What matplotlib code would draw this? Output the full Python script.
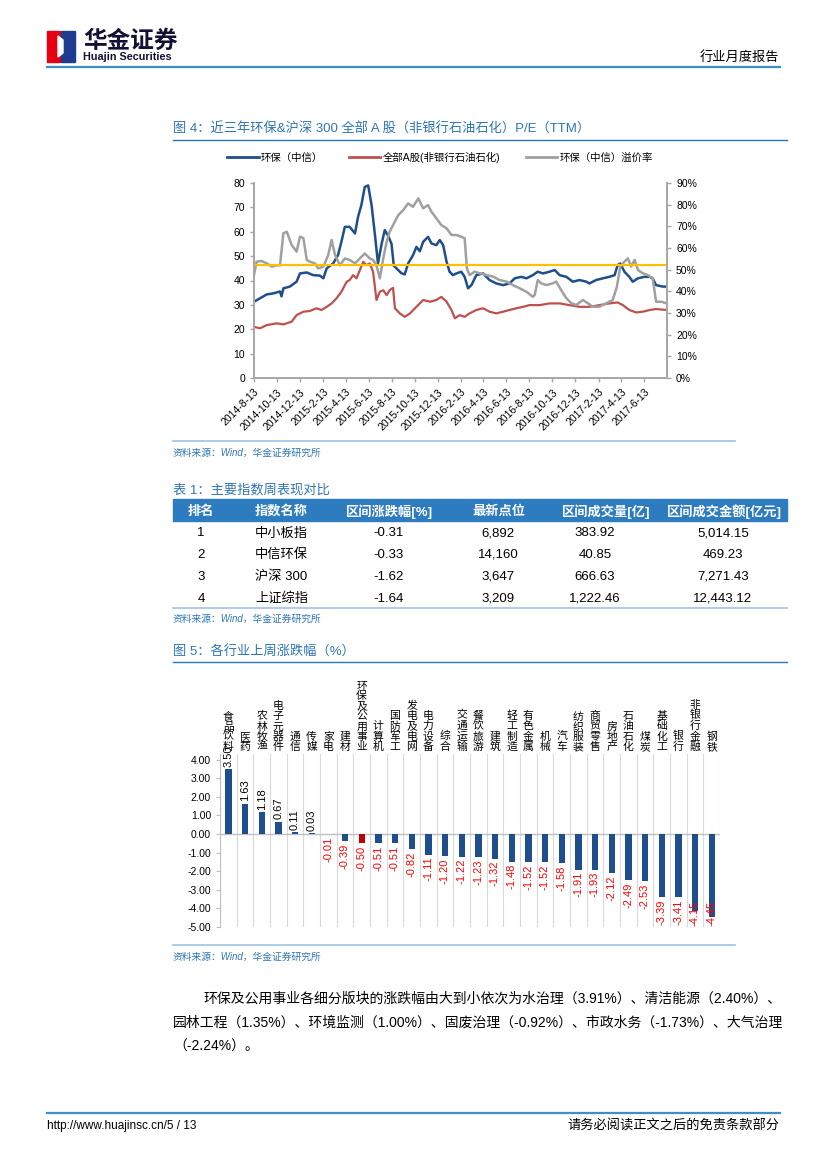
import numpy as np
import pandas as pd
import matplotlib
matplotlib.use("Agg")
import matplotlib.pyplot as plt
from matplotlib.patches import Rectangle, Polygon
from matplotlib.lines import Line2D
from matplotlib.ticker import FuncFormatter

plt.rcParams['font.family'] = ['Liberation Sans', 'Noto Sans CJK SC', 'DejaVu Sans']

# ---- 图4 数据 (天数从 2014-8-13 起算, 读图估计) ----
base = pd.Timestamp('2014-08-13')
blue_days = [0, 16, 34, 51, 69, 73, 78, 95, 113, 122, 140, 157, 175, 184, 193, 210, 223, 232, 241, 254,
             268, 276, 285, 294, 303, 312, 321, 329, 338, 347, 357, 365, 371, 378, 391, 400, 409, 422, 431, 440,
             449, 462, 471, 484, 493, 502, 511, 519, 528, 537, 550, 559, 568, 577, 590, 608, 625, 643, 661, 678,
             692, 709, 723, 740, 753, 767, 784, 798, 811, 829, 846, 864, 882, 890, 908, 926, 943, 957, 965, 972,
             983, 996, 1005, 1019, 1036, 1050, 1058, 1067, 1085, 1094]
blue_pe = [31.3, 32.7, 34.3, 34.7, 35.5, 33.5, 36.8, 37.5, 39.5, 42.9, 43.3, 42.2, 42.0, 40.9, 45.0, 47.0, 50.4, 55.9, 62.0, 62.0,
           59.3, 66.0, 71.0, 78.4, 79.0, 71.0, 58.6, 47.0, 54.5, 60.7, 58.0, 55.0, 46.0, 45.0, 43.0, 42.5, 47.0, 50.4, 53.8, 52.0,
           55.9, 57.9, 55.2, 54.5, 56.6, 54.5, 47.7, 43.6, 42.2, 42.9, 43.6, 41.5, 36.8, 38.1, 42.2, 42.9, 40.2, 38.8, 38.1, 38.8,
           40.9, 41.5, 40.9, 42.2, 43.6, 42.9, 43.6, 44.3, 42.2, 41.5, 39.5, 40.2, 39.5, 38.8, 40.2, 40.9, 41.5, 42.2, 46.3, 47.0,
           43.6, 41.5, 39.5, 40.9, 41.5, 41.5, 40.9, 38.1, 37.5, 37.5]

red_days = [0, 16, 34, 60, 78, 100, 113, 131, 148, 166, 179, 193, 206, 219, 232, 246, 254, 263, 272, 281,
            290, 298, 307, 316, 325, 334, 343, 352, 360, 369, 374, 387, 400, 414, 431, 449, 467, 484, 497, 511,
            524, 533, 546, 559, 572, 590, 608, 625, 643, 661, 678, 696, 714, 731, 758, 784, 811, 837, 864, 890,
            917, 943, 965, 979, 996, 1014, 1032, 1050, 1067, 1094]
red_pe = [21.0, 20.4, 21.7, 22.4, 22.0, 23.1, 25.8, 27.2, 27.5, 28.6, 27.9, 29.2, 30.6, 32.7, 35.4, 39.5, 40.2, 42.2, 40.9, 44.3,
          47.7, 46.3, 47.0, 43.6, 32.0, 35.4, 36.0, 34.0, 36.0, 37.0, 28.6, 26.5, 25.1, 26.5, 29.2, 32.0, 31.3, 32.0, 33.3, 31.3,
          27.9, 24.5, 25.8, 25.1, 26.5, 27.9, 28.6, 27.2, 26.5, 27.2, 27.9, 28.6, 29.2, 29.9, 29.9, 30.6, 30.6, 29.9, 29.2, 29.2,
          29.9, 30.6, 31.0, 29.9, 27.9, 26.9, 27.2, 27.9, 28.3, 27.9]

gray_days = [0, 7, 20, 34, 47, 60, 69, 78, 87, 100, 113, 122, 131, 140, 148, 162, 170, 184, 197, 206,
             215, 228, 241, 254, 268, 281, 294, 307, 316, 325, 334, 343, 352, 360, 369, 383, 396, 409, 422, 436,
             449, 462, 471, 484, 497, 511, 524, 537, 550, 559, 565, 572, 586, 599, 617, 634, 652, 670, 687, 705,
             723, 740, 745, 753, 762, 776, 793, 802, 815, 829, 842, 855, 873, 886, 899, 917, 935, 952, 963, 972,
             983, 992, 1001, 1010, 1019, 1032, 1045, 1058, 1067, 1081, 1094]
gray_pct = [47.5, 53.7, 54.0, 52.9, 51.4, 52.0, 52.0, 66.8, 67.5, 61.4, 58.3, 65.2, 64.6, 54.5, 53.7, 52.9, 50.6, 51.4, 56.8, 63.7,
            56.8, 52.0, 55.2, 54.5, 52.9, 55.2, 57.5, 55.2, 54.5, 52.0, 46.0, 55.2, 62.9, 67.5, 70.6, 75.2, 77.5, 80.6, 79.0, 82.9,
            78.3, 79.8, 76.7, 73.7, 70.6, 69.1, 66.0, 66.0, 65.2, 64.5, 50.6, 47.5, 49.1, 48.3, 47.5, 46.8, 45.2, 44.5, 42.9, 41.4,
            39.8, 37.5, 38.3, 45.2, 43.7, 42.9, 43.7, 44.5, 40.6, 36.8, 34.5, 33.7, 36.0, 34.5, 32.9, 32.9, 34.5, 36.0, 42.1, 51.4,
            53.7, 55.2, 51.4, 54.5, 49.8, 48.3, 47.5, 46.0, 35.2, 35.2, 34.5]
premium_mean = 52.0  # 黄线, %

legend_names = ['环保（中信）', '全部A股(非银行石油石化)', '环保（中信）溢价率']

# ---- 表1 ----
tbl_head = ['排名', '指数名称', '区间涨跌幅[%]', '最新点位', '区间成交量[亿]', '区间成交金额[亿元]']
tbl_rank = ['1', '2', '3', '4']
tbl_name = ['中小板指', '中信环保', '沪深 300', '上证综指']
tbl_chg = ['-0.31', '-0.33', '-1.62', '-1.64']
tbl_pts = ['6,892', '14,160', '3,647', '3,209']
tbl_vol = ['383.92', '40.85', '666.63', '1,222.46']
tbl_amt = ['5,014.15', '469.23', '7,271.43', '12,443.12']

# ---- 图5 ----
industries = ['食品饮料', '医药', '农林牧渔', '电子元器件', '通信', '传媒', '家电', '建材', '环保及公用事业', '计算机',
              '国防军工', '发电及电网', '电力设备', '综合', '交通运输', '餐饮旅游', '建筑', '轻工制造', '有色金属', '机械',
              '汽车', '纺织服装', '商贸零售', '房地产', '石油石化', '煤炭', '基础化工', '银行', '非银行金融', '钢铁']
changes = [3.50, 1.63, 1.18, 0.67, 0.11, 0.03, -0.01, -0.39, -0.50, -0.51,
           -0.51, -0.82, -1.11, -1.20, -1.22, -1.23, -1.32, -1.48, -1.52, -1.52,
           -1.58, -1.91, -1.93, -2.12, -2.49, -2.53, -3.39, -3.41, -4.15, -4.45]

para = ['环保及公用事业各细分版块的涨跌幅由大到小依次为水治理（3.91%）、清洁能源（2.40%）、',
        '园林工程（1.35%）、环境监测（1.00%）、固废治理（-0.92%）、市政水务（-1.73%）、大气治理',
        '（-2.24%）。']

W, H = 827, 1169
fig = plt.figure(figsize=(8.27, 11.69), dpi=100)
BLUE_T = '#2E75B6'


def fx(x):
    return x / W


def fy(y):
    return 1 - y / H


def txt(x, y, s, **kw):
    kw.setdefault('va', 'center_baseline')
    return fig.text(fx(x), fy(y), s, **kw)


def hline(x0, x1, y, color, lw=1.0):
    fig.add_artist(Line2D([fx(x0), fx(x1)], [fy(y), fy(y)], color=color, lw=lw))


def rect(x0, y0, x1, y1):
    return [fx(x0), fy(y1), (x1 - x0) / W, (y1 - y0) / H]


# 页眉
fig.add_artist(Rectangle((fx(47), fy(62)), 13 / W, 31 / H, color='#E60012'))
fig.add_artist(Rectangle((fx(61), fy(62)), 14 / W, 31 / H, color='#1D3B8F'))
fig.add_artist(Polygon([(fx(58), fy(36)), (fx(63), fy(40)), (fx(63), fy(53)), (fx(58), fy(57))],
                       closed=True, color='white'))
txt(83, 41, '华金证券', fontsize=17, fontweight='bold', color='#111133', va='center')
txt(83, 57, 'Huajin Securities', fontsize=7.8, fontweight='bold', color='#111133', va='center')
txt(779, 57, '行业月度报告', fontsize=9.5, ha='right', va='center')
hline(47, 780, 67, '#3D8FC4', 1.6)

# 图4
txt(173, 128, '图 4：近三年环保&沪深 300 全部 A 股（非银行石油石化）P/E（TTM）', fontsize=9.5, color=BLUE_T)
hline(173, 787, 140, BLUE_T, 1.0)

ax = fig.add_axes(rect(254, 183, 667, 378))
ax.plot(base + pd.to_timedelta(blue_days, unit='D'), blue_pe, color='#1F4E8C', lw=1.8)
ax.plot(base + pd.to_timedelta(red_days, unit='D'), red_pe, color='#C0504D', lw=1.6)
ax2 = ax.twinx()
ax2.plot(base + pd.to_timedelta(gray_days, unit='D'), np.array(gray_pct) / 100, color='#A0A0A0', lw=1.8)
ax2.axhline(premium_mean / 100, color='#FFC000', lw=1.6)
ax.set_xlim(base, pd.Timestamp('2017-08-13'))
ax.set_ylim(0, 80)
ax2.set_ylim(0, 0.9)
ticks = [base + pd.DateOffset(months=2 * k) for k in range(18)]
ax.set_xticks(ticks)
ax.set_xticklabels([f'{t.year}-{t.month}-{t.day}' for t in ticks], rotation=45, ha='right',
                   rotation_mode='anchor', fontsize=7.5)
ax.set_yticks(range(0, 81, 10))
ax2.set_yticks(np.arange(0, 0.91, 0.1))
ax2.yaxis.set_major_formatter(FuncFormatter(lambda v, p: f'{v * 100:.0f}%'))
for a in (ax, ax2):
    a.tick_params(axis='y', labelsize=7.5, length=3, color='#A6A6A6', width=1)
    a.tick_params(axis='x', length=3, color='#A6A6A6', width=1)
    a.spines['top'].set_visible(False)
    for s in ('left', 'right', 'bottom'):
        a.spines[s].set_color('#A6A6A6')
        a.spines[s].set_linewidth(1.2)
handles = [Line2D([], [], color=c, lw=2, label=n) for c, n in zip(['#1F4E8C', '#C0504D', '#A0A0A0'], legend_names)]
fig.legend(handles=handles, loc='center', bbox_to_anchor=(fx(440), fy(157)), ncol=3, frameon=False,
           fontsize=7.5, handlelength=3, columnspacing=2.5, handletextpad=0.2)

hline(173, 735, 441, '#9DC3E6', 1.2)
txt(173, 452, '资料来源：Wind，华金证券研究所', fontsize=7, color=BLUE_T, style='italic')

# 表1
txt(173, 489, '表 1：主要指数周表现对比', fontsize=9.5, color=BLUE_T)
fig.add_artist(Rectangle((fx(173), fy(521)), (787 - 173) / W, 22 / H, color='#2E7CC0'))
head_x = [201, 255, 389, 499, 606, 724]
head_ha = ['center', 'left', 'center', 'center', 'center', 'center']
for s, x, ha in zip(tbl_head, head_x, head_ha):
    txt(x, 510, s, fontsize=9.5, fontweight='bold', color='white', ha=ha)
row_y = [532, 553, 575, 597]
cols = [tbl_rank, tbl_name, tbl_chg, tbl_pts, tbl_vol, tbl_amt]
data_x = [201, 255, 389, 498, 595, 723]
for col, x, ha in zip(cols, data_x, head_ha):
    for s, y in zip(col, row_y):
        txt(x, y, s, fontsize=9.5, ha=ha)
hline(173, 787, 608, '#9DC3E6', 1.2)
txt(173, 618, '资料来源：Wind，华金证券研究所', fontsize=7, color=BLUE_T, style='italic')

# 图5
txt(173, 651, '图 5：各行业上周涨跌幅（%）', fontsize=9.5, color=BLUE_T)
hline(173, 787, 662, BLUE_T, 1.0)

ax3 = fig.add_axes(rect(220, 754, 720, 927))
xs = np.arange(len(industries))
bar_colors = ['#C00000' if n == '环保及公用事业' else '#1F4E8C' for n in industries]
ax3.bar(xs, changes, width=0.38, color=bar_colors, zorder=3)
ax3.set_xlim(-0.5, len(industries) - 0.5)
ax3.set_ylim(-5, 4.3)
for b in np.arange(-0.5, len(industries), 1):
    ax3.axvline(b, color='#D9D9D9', lw=0.8, zorder=0)
ax3.axhline(0, color='#BFBFBF', lw=1, zorder=2)
ax3.set_yticks(range(-5, 5))
ax3.yaxis.set_major_formatter(FuncFormatter(lambda v, p: f'{v:.2f}'))
ax3.tick_params(axis='y', labelsize=7.5, length=3, color='#BFBFBF')
ax3.set_xticks([])
for s in ('top', 'right', 'bottom'):
    ax3.spines[s].set_visible(False)
ax3.spines['left'].set_color('#BFBFBF')
for i, (n, v) in enumerate(zip(industries, changes)):
    ax3.text(i, 4.41, '\n'.join(n), ha='center', va='bottom', fontsize=7.8, linespacing=1.02, clip_on=False)
    if v >= 0:
        ax3.text(i, v + 0.12, f'{v:.2f}', rotation=90, ha='center', va='bottom', fontsize=8, zorder=4)
    else:
        # 超出绘图区的标签上移到区内 (与原图一致, 压在柱上)
        top = max(v - 0.12, -3.6)
        ax3.text(i, top, f'{v:.2f}', rotation=90, ha='center', va='top', fontsize=8,
                 color='#FF0000', zorder=4)

hline(173, 735, 945, '#9DC3E6', 1.2)
txt(173, 956, '资料来源：Wind，华金证券研究所', fontsize=7, color=BLUE_T, style='italic')

# 正文 (两端对齐: 按目标宽度调字号)
renderer = fig.canvas.get_renderer()
p1 = txt(203, 997, para[0], fontsize=11)
p2 = txt(173, 1021, para[1], fontsize=11)
for t, target in ((p1, 780 - 203), (p2, 780 - 173)):
    w = t.get_window_extent(renderer).width
    t.set_fontsize(11 * target / w)
txt(173, 1045, para[2], fontsize=p2.get_fontsize())

# 页脚
hline(47, 780, 1113, '#3D8FC4', 1.6)
txt(47, 1124, 'http://www.huajinsc.cn/5 / 13', fontsize=8.5)
txt(779, 1124, '请务必阅读正文之后的免责条款部分', fontsize=9.5, ha='right')

fig.savefig('out.png', dpi=100)
